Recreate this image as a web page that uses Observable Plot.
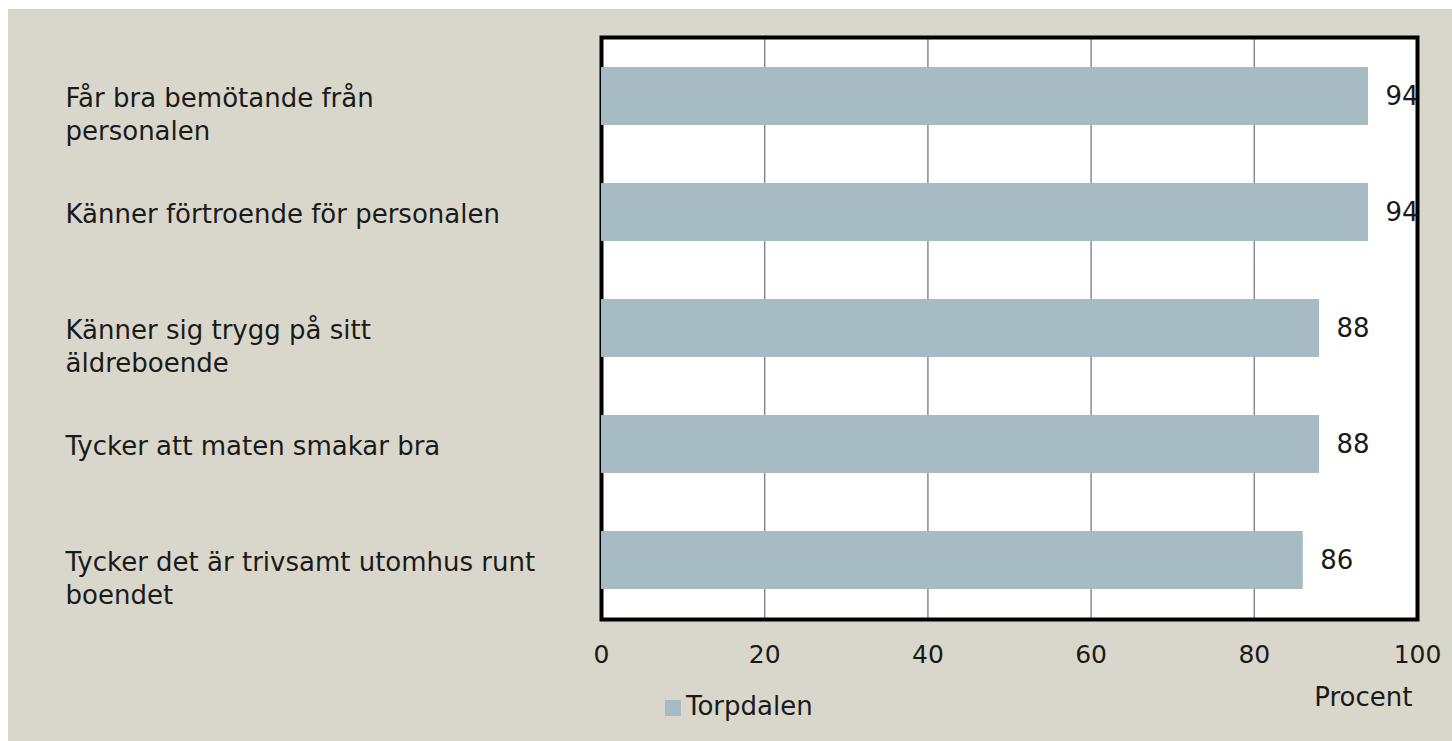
<!DOCTYPE html>
<html><head><meta charset="utf-8">
<script src="https://cdn.jsdelivr.net/npm/d3@7"></script>
<script src="https://cdn.jsdelivr.net/npm/@observablehq/plot@0.6"></script>
<style>
html,body{margin:0;padding:0;background:#fff;}
#wrap{position:relative;width:1452px;height:741px;overflow:hidden;font-family:"DejaVu Sans",sans-serif;}
#bg{position:absolute;left:8px;top:9px;right:0;bottom:0;background:#d9d7cb;}
#chart{position:absolute;left:0;top:0;}
#legend{position:absolute;left:665px;top:690px;display:flex;align-items:center;font-size:26px;color:#1a1a1a;line-height:32px;}
#legend .sw{width:16px;height:16px;margin-right:5px;margin-top:3px;}
</style></head><body>
<div id="wrap"><div id="bg"></div><div id="chart"></div><div id="legend"></div></div>
<script>
const categories = [
  "Får bra bemötande från personalen",
  "Känner förtroende för personalen",
  "Känner sig trygg på sitt äldreboende",
  "Tycker att maten smakar bra",
  "Tycker det är trivsamt utomhus runt boendet"
];
const labelLines = [
  "Får bra bemötande från\npersonalen",
  "Känner förtroende för personalen",
  "Känner sig trygg på sitt\näldreboende",
  "Tycker att maten smakar bra",
  "Tycker det är trivsamt utomhus runt\nboendet"
];
const values = [94, 94, 88, 88, 86];
const xTicks = [0, 20, 40, 60, 80, 100];
const seriesName = "Torpdalen";
const axisLabel = "Procent";
const barColor = "#a7bbc5";
const textColor = "#1a1a1a";

const data = categories.map((c, i) => ({category: c, label: labelLines[i], value: values[i]}));

const chart = Plot.plot({
  width: 1452,
  height: 730,
  marginLeft: 601,
  marginRight: 35,
  marginTop: 37,
  marginBottom: 111,
  style: {background: "transparent", fontFamily: "'DejaVu Sans', sans-serif", fontSize: "26px", color: textColor},
  x: {domain: [0, 100]},
  y: {domain: categories, paddingInner: 0.5, paddingOuter: 0.25, axis: null},
  marks: [
    Plot.frame({fill: "white", stroke: null}),
    Plot.gridX({ticks: xTicks, stroke: "#8a8a8a", strokeOpacity: 1, strokeWidth: 1.5}),
    Plot.frame({stroke: "#000", strokeWidth: 4}),
    Plot.barX(data, {x: "value", y: "category", fill: barColor}),
    Plot.text(data, {x: "value", y: "category", text: d => String(d.value), textAnchor: "start", dx: 17, fontSize: 26, fill: textColor}),
    Plot.text(data, {y: "category", text: "label", frameAnchor: "left", textAnchor: "start", dx: -536, lineAnchor: "top", dy: -13, lineHeight: 1.27, fontSize: 26, fill: textColor}),
    Plot.axisX({ticks: xTicks, tickSize: 0, tickPadding: 26, fontSize: 25, label: null}),
    Plot.text([axisLabel], {frameAnchor: "bottom-right", textAnchor: "end", lineAnchor: "middle", dx: -5, dy: 78, fontSize: 26, fill: textColor})
  ]
});
document.getElementById("chart").appendChild(chart);

const legend = document.getElementById("legend");
const sw = document.createElement("div");
sw.className = "sw";
sw.style.background = barColor;
const lt = document.createElement("span");
lt.textContent = seriesName;
legend.appendChild(sw);
legend.appendChild(lt);
</script>
</body></html>
